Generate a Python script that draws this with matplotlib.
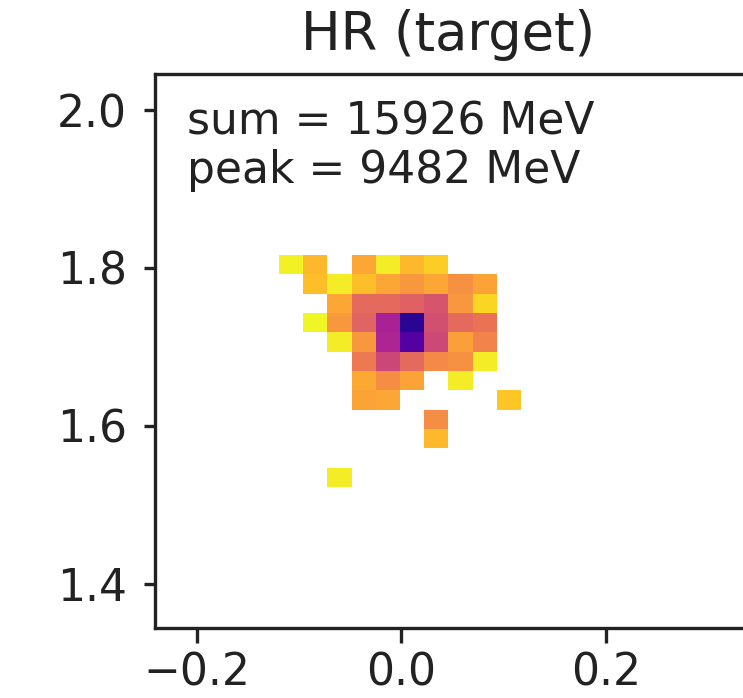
import matplotlib
matplotlib.use('Agg')
import matplotlib.pyplot as plt
import numpy as np
from matplotlib.colors import LogNorm

# Cell energies in MeV, nan = empty cell (rows top to bottom)
n = np.nan
row0 = [4.1, 12, n, 18, 4.5, 12, 8, n, n, n]
row1 = [n, 11, 4.5, 11, 18, 26, 18, 30, 20, n]
row2 = [n, n, 18, 82, 82, 105, 146, 26, 7, n]
row3 = [n, 3.8, 26, 96, 630, 9482, 172, 82, 63, n]
row4 = [n, n, 4.5, 26, 575, 4200, 212, 22, 42, n]
row5 = [n, n, n, 54, 220, 82, 35, 30, 4.5, n]
row6 = [n, n, n, 17.6, 33, 20, n, 4.5, n, n]
row7 = [n, n, n, 20, 18, n, n, n, n, 9.5]
row8 = [n, n, n, n, n, n, 33, n, n, n]
row9 = [n, n, n, n, n, n, 12, n, n, n]
row10 = [n, n, n, n, n, n, n, n, n, n]
row11 = [n, n, 4.5, n, n, n, n, n, n, n]
energy = np.array([row0, row1, row2, row3, row4, row5, row6, row7, row8, row9, row10, row11])

x_ticks = [-0.2, 0.0, 0.2]
y_ticks = [1.4, 1.6, 1.8, 2.0]
note = 'sum = 15926 MeV\npeak = 9482 MeV'

W, H = 743, 698
fig = plt.figure(figsize=(W / 100, H / 100), dpi=100)
ax = fig.add_axes([155 / W, (H - 628) / H, 595 / W, 554 / H])

ax.imshow(energy, cmap='plasma_r', norm=LogNorm(vmin=3.5, vmax=14000),
          extent=[-0.120, 0.116, 1.523, 1.8165], aspect='auto',
          interpolation='nearest')
ax.set_xlim(-0.241, 0.341)
ax.set_ylim(1.344, 2.0456)
ax.set_xticks(x_ticks)
ax.set_yticks(y_ticks)

for s in ax.spines.values():
    s.set_linewidth(2.4)
    s.set_color('#222222')
ax.tick_params(axis='x', length=11, width=2.4, pad=6, labelsize=31.7, color='#222222', labelcolor='#222222')
ax.tick_params(axis='y', length=8, width=2.4, pad=12, labelsize=31.7, color='#222222', labelcolor='#222222')

ax.set_title('HR (target)', fontsize=38, x=0.493, pad=17, color='#222222')
ax.text(0.054, 0.953, note, transform=ax.transAxes, fontsize=31.7, va='top', ha='left',
        color='#222222', linespacing=1.17)

fig.savefig('out.png', dpi=100)
